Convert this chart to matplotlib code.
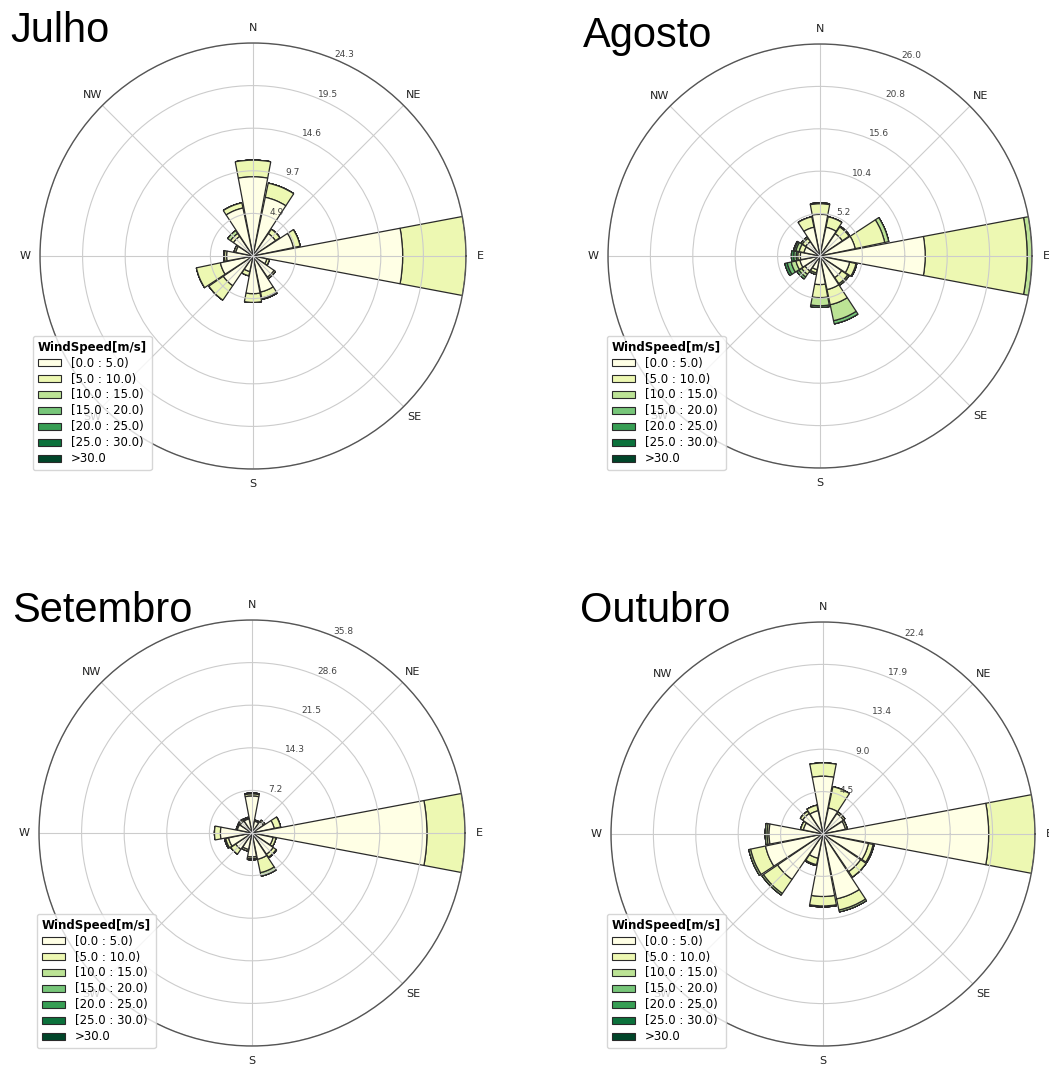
import numpy as np
import matplotlib.pyplot as plt
from matplotlib.patches import Patch

# -*- coding: utf-8 -*-
# monthly wind roses: frequency (%) per direction, stacked by speed class

directions = ["N", "NNE", "NE", "ENE", "E", "ESE", "SE", "SSE",
              "S", "SSW", "SW", "WSW", "W", "WNW", "NW", "NNW"]
speed_labels = ["[0.0 : 5.0)", "[5.0 : 10.0)", "[10.0 : 15.0)", "[15.0 : 20.0)",
                "[20.0 : 25.0)", "[25.0 : 30.0)", ">30.0"]
theta_labels = ["E", "NE", "N", "NW", "W", "SW", "S", "SE"]

# one row per direction (N clockwise), one column per speed class
julho = [
    [9.05, 1.9], [6.85, 1.65], [3.1, 0.6], [4.7, 0.8],
    [17.1, 7.24], [1.6, 0.3], [2.9, 0.2], [4.2, 0.7, 0.15],
    [4.3, 1.0], [1.8, 0.5], [4.1, 2.0], [3.8, 2.8],
    [3.0, 0.25, 0.1], [2.0, 0.2], [2.7, 0.4, 0.4], [5.6, 0.6],
]
agosto = [
    [5.1, 1.3, 0.1], [3.6, 1.3], [3.3, 1.0, 0.1], [4.4, 3.7, 0.5],
    [12.9, 12.5, 0.6], [3.7, 0.8, 0.1], [3.2, 0.9, 0.2], [4.2, 1.9, 2.0, 0.4],
    [3.5, 1.6, 1.0, 0.2], [1.7, 0.4, 0.2], [2.2, 0.5, 0.4, 0.3], [2.5, 0.5, 0.6, 0.5, 0.3],
    [2.4, 0.3, 0.2, 0.3, 0.3], [2.0, 0.6, 0.4, 0.2, 0.1], [2.1, 0.5, 0.2], [3.6, 1.3],
]
setembro = [
    [6.2, 0.35, 0.15], [2.0, 0.2], [2.3, 0.3], [3.8, 1.1],
    [29.4, 6.4], [3.6, 0.5], [4.3, 0.6, 0.1], [4.5, 2.3, 0.6],
    [4.0, 0.3, 0.2], [2.8, 0.3], [3.3, 1.0], [4.0, 0.5, 0.2],
    [5.3, 1.0], [2.5, 0.2], [2.4, 0.3, 0.1], [2.4, 0.2, 0.1],
]
outubro = [
    [6.1, 1.4], [2.8, 2.3], [2.6, 0.2], [2.4, 0.2],
    [17.5, 4.9], [4.9, 0.5, 0.1], [4.8, 0.7], [7.0, 1.2, 0.2],
    [6.6, 1.0, 0.1], [2.6, 0.7, 0.1], [5.8, 1.8, 0.2], [6.2, 1.6, 0.2],
    [5.7, 0.2, 0.2], [2.1, 0.3], [2.6, 0.3], [2.5, 0.6],
]

months = ["Julho", "Agosto", "Setembro", "Outubro"]
tables = [julho, agosto, setembro, outubro]

W, H = 1049, 1066
# panel layout in pixels: rose centre, radius, title baseline, legend corner
centres = [(253, 256, 213), (820, 256, 212), (252, 833, 213), (823, 834, 212)]
title_pos = [(10, 42), (583, 47), (12, 622), (580, 622)]
legend_pos = [(33, 470), (607, 470), (37, 1048), (607, 1048)]

nbins = len(speed_labels)
colors = plt.cm.YlGn(np.linspace(0, 1, nbins))


def draw_rose(ax, table):
    table = np.array([row + [0.0] * (nbins - len(row)) for row in table])
    nsector = len(directions)
    dtheta = 2 * np.pi / nsector
    theta = np.radians(90 - np.arange(nsector) * 360.0 / nsector)
    opening = 0.95 * dtheta

    offset = np.zeros(nsector)
    for i in range(nbins):
        ax.bar(theta, table[:, i], width=opening, bottom=offset,
               color=colors[i], edgecolor="#2a2a2a", linewidth=0.9,
               zorder=-1000 + nbins - i)
        offset = offset + table[:, i]

    rmax = offset.max()
    ax.set_ylim(0, rmax)
    radii = np.linspace(0, rmax, 6)[1:]
    ax.set_rgrids(radii, ["%.1f" % r for r in radii], angle=67.5,
                  fontsize=6.5, color="#444444")
    ax.set_thetagrids(np.arange(0, 360, 45), theta_labels, fontsize=8,
                      color="#222222")
    ax.tick_params(axis="x", pad=0)
    ax.grid(True, color="#cccccc", linewidth=0.8)
    ax.spines["polar"].set_color("#555555")
    ax.spines["polar"].set_linewidth(1.0)


fig = plt.figure(figsize=(W / 100, H / 100), dpi=100)

for k, month in enumerate(months):
    cx, cy, r = centres[k]
    ax = fig.add_axes([(cx - r) / W, 1 - (cy + r) / H, 2 * r / W, 2 * r / H],
                      projection="polar")
    draw_rose(ax, tables[k])

    handles = [Patch(facecolor=c, edgecolor="#2a2a2a", linewidth=0.8) for c in colors]
    lx, ly = legend_pos[k]
    leg = ax.legend(handles, speed_labels, title="WindSpeed[m/s]",
                    loc="lower left", bbox_to_anchor=(lx / W, 1 - ly / H),
                    bbox_transform=fig.transFigure, borderaxespad=0,
                    fontsize=8.5, labelspacing=0.25, handleheight=0.55,
                    title_fontproperties={"weight": "bold", "size": 8.5})
    leg._legend_box.align = "left"

    tx, ty = title_pos[k]
    fig.text(tx / W, 1 - ty / H, month, fontsize=30, family="Liberation Sans",
             va="baseline", ha="left")

fig.savefig("out.png", dpi=100)
